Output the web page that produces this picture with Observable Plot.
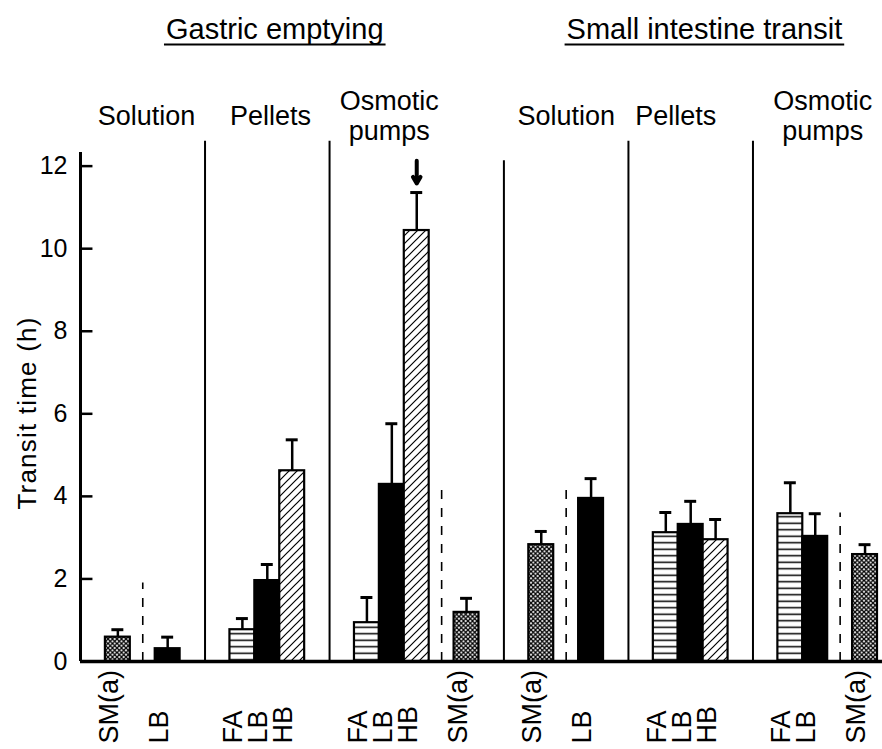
<!DOCTYPE html>
<html><head><meta charset="utf-8">
<script src="https://cdn.jsdelivr.net/npm/d3@7"></script>
<script src="https://cdn.jsdelivr.net/npm/@observablehq/plot@0.6"></script>
<style>html,body{margin:0;padding:0;background:#fff}</style>
</head><body><div id="chart"></div>
<script>
// ---- data ----
const sections = ["Gastric emptying", "Small intestine transit"];
const groupNames = ["Solution", "Pellets", "Osmotic\npumps", "Solution", "Pellets", "Osmotic\npumps"];
const barGroup = [0,0,1,1,1,2,2,2,2,3,3,4,4,4,5,5,5];
const barFormulation = ["SM(a)","LB","FA","LB","HB","FA","LB","HB","SM(a)","SM(a)","LB","FA","LB","HB","FA","LB","SM(a)"];
const barMean = [0.59,0.31,0.77,1.96,4.62,0.94,4.29,10.44,1.19,2.83,3.95,3.12,3.32,2.95,3.58,3.03,2.59];
const barSem  = [0.18,0.28,0.27,0.39,0.75,0.61,1.47,0.92,0.34,0.32,0.48,0.49,0.56,0.49,0.75,0.55,0.24];
const yTicks = [0,2,4,6,8,10,12];
const dividerTop = [1.9, 4.15, 4.2, 3.6];
const yLabel = "Transit time (h)";

// ---- layout (slots along x) ----
const groupLayout = ["_b|b_", "_bbb_", "_bbb|b_", "_b|b_", "_bbb_", "_bb|b"];
const headerNudge = [0.15, 0.13, -1.1, 0, -0.6, 0.3];
const sectionGroups = [[0,2],[3,5]];
const sectionNudge = [-0.7, 0.55];

let slot = 0;
const barSlots = [], dividerSlots = [], boundaries = [], gStart = [], gEnd = [];
groupLayout.forEach((pat, g) => {
  gStart.push(slot);
  for (const c of pat) {
    if (c === "b") barSlots.push(slot);
    else if (c === "|") dividerSlots.push(slot + 0.5);
    slot++;
  }
  gEnd.push(slot);
  if (g < groupLayout.length - 1) boundaries.push(slot);
});
const nSlots = slot;
const yMax = 12.33;

const bars = barMean.map((m, i) => ({group: barGroup[i], type: barFormulation[i], mean: m, sem: barSem[i], top: m + barSem[i], slot: barSlots[i]}));
const separators = boundaries.map((x, i) => ({x, top: i === 2 ? 12.13 : 12.6}));
const dividers = dividerSlots.map((x, i) => ({x, top: dividerTop[i]}));
const headers = groupNames.map((name, g) => ({name, x: (gStart[g] + gEnd[g]) / 2 + headerNudge[g]}));
const sectionData = sections.map((name, s) => ({name, x: (gStart[sectionGroups[s][0]] + gEnd[sectionGroups[s][1]]) / 2 + sectionNudge[s]}));
const pointer = bars.filter(d => d.top === d3.max(bars, b => b.top));

const fills = {"SM(a)": "url(#p-sm)", "FA": "url(#p-fa)", "LB": "black", "HB": "url(#p-hb)"};
const mainFont = '"Liberation Sans", Arial, sans-serif';

const plot = Plot.plot({
  width: 882, height: 749,
  marginLeft: 80, marginRight: 5, marginTop: 152, marginBottom: 88,
  x: {domain: [0, nSlots], axis: null},
  y: {domain: [0, yMax], label: null},
  style: {fontFamily: mainFont, background: "white", color: "black", overflow: "visible"},
  marks: [
    Plot.ruleX(separators, {x: "x", y1: 0, y2: "top", strokeWidth: 2}),
    Plot.ruleX(dividers, {x: "x", y1: 0, y2: "top", strokeWidth: 1.6, strokeDasharray: "9,9"}),
    ...Object.keys(fills).map(t => Plot.rectY(bars.filter(d => d.type === t), {
      x1: "slot", x2: d => d.slot + 1, y1: 0, y2: "mean",
      fill: fills[t], stroke: "black", strokeWidth: 2.2
    })),
    Plot.ruleX(bars, {x: d => d.slot + 0.5, y1: "mean", y2: "top", strokeWidth: 2.5}),
    Plot.ruleY(bars, {y: "top", x1: d => d.slot + 0.26, x2: d => d.slot + 0.74, strokeWidth: 3}),
    Plot.arrow(pointer, {x1: d => d.slot + 0.5, x2: d => d.slot + 0.5, y1: d => d.top + 0.77, y2: d => d.top + 0.22, strokeWidth: 4, headLength: 10, headAngle: 60}),
    Plot.ruleY([0], {x1: 0, x2: nSlots + 0.2, strokeWidth: 3.5}),
    Plot.ruleX([0], {y1: 0, y2: yMax, strokeWidth: 3}),
    Plot.ruleY(yTicks.slice(1), {y: d => d, x1: 0, x2: 0.5, strokeWidth: 2.5}),
    Plot.axisY({ticks: yTicks, tickSize: 0, tickPadding: 13, fontSize: 25, tickFormat: d => d, label: null}),
    Plot.text([yLabel], {frameAnchor: "left", textAnchor: "middle", lineAnchor: "middle", rotate: -90, dx: -53, dy: 6, fontSize: 26}),
    Plot.text(bars, {x: d => d.slot + 0.5, text: "type", frameAnchor: "bottom", rotate: -90, textAnchor: "start", dy: 82, fontSize: 27}),
    Plot.text(headers, {x: "x", text: "name", frameAnchor: "top", lineAnchor: "middle", dy: -37, lineHeight: 1.12, fontSize: 27}),
    Plot.text(sectionData, {x: "x", text: "name", frameAnchor: "top", dy: -114, lineAnchor: "bottom", fontSize: 29})
  ]
});

const svg = d3.select(plot);
const defs = svg.insert("defs", ":first-child");
const sm = defs.append("pattern").attr("id", "p-sm").attr("patternUnits", "userSpaceOnUse").attr("width", 4.5).attr("height", 4.5);
sm.append("rect").attr("width", 4.5).attr("height", 4.5).attr("fill", "white");
sm.append("path").attr("d", "M0,0L4.5,4.5M4.5,0L0,4.5").attr("stroke", "black").attr("stroke-width", 1.3);
const fa = defs.append("pattern").attr("id", "p-fa").attr("patternUnits", "userSpaceOnUse").attr("width", 10).attr("height", 6.5);
fa.append("rect").attr("width", 10).attr("height", 6.5).attr("fill", "white");
fa.append("path").attr("d", "M0,3.25H10").attr("stroke", "black").attr("stroke-width", 1.5);
const hb = defs.append("pattern").attr("id", "p-hb").attr("patternUnits", "userSpaceOnUse").attr("width", 8).attr("height", 8);
hb.append("rect").attr("width", 8).attr("height", 8).attr("fill", "white");
hb.append("path").attr("d", "M-1,1L1,-1M0,8L8,0M7,9L9,7").attr("stroke", "black").attr("stroke-width", 1.2);

svg.selectAll("text").filter(function () { return this.textContent === yLabel; }).style("letter-spacing", "1.2px");

document.getElementById("chart").appendChild(plot);

// underline the two section titles
const svgBox = plot.getBoundingClientRect();
svg.selectAll("text").filter(function () { return sections.includes(this.textContent); }).each(function () {
  const r = this.getBoundingClientRect();
  const yy = r.bottom - svgBox.top;
  svg.append("line")
    .attr("x1", r.left - svgBox.left - 2).attr("x2", r.right - svgBox.left + 2)
    .attr("y1", yy).attr("y2", yy)
    .attr("stroke", "black").attr("stroke-width", 2);
});
</script>
</body></html>
